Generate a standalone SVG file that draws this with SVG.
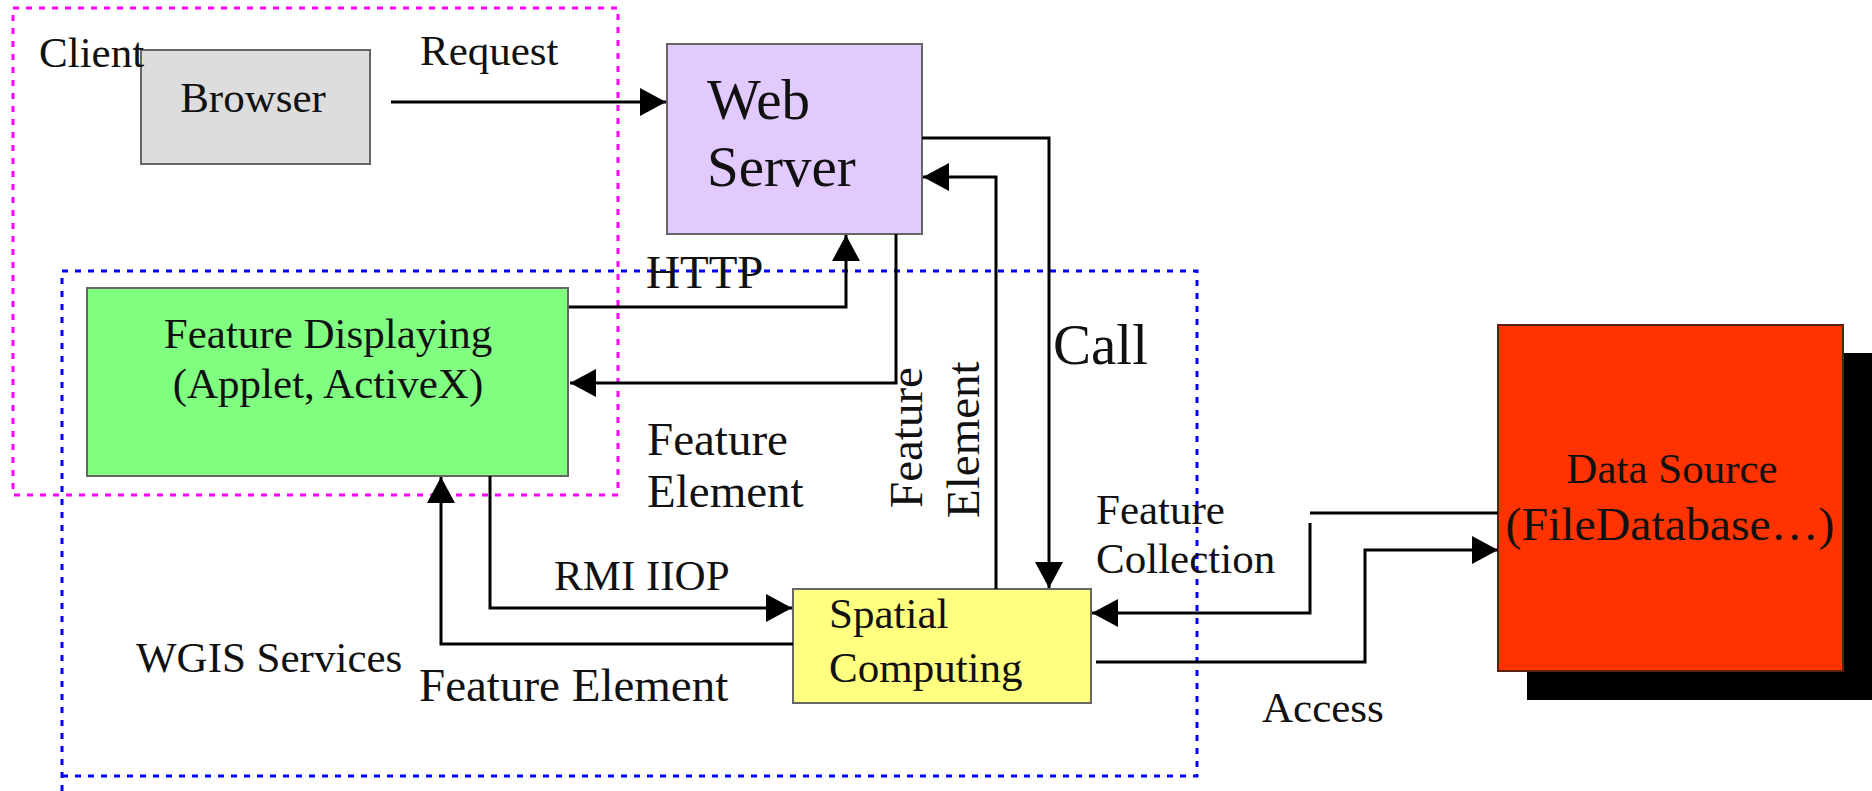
<svg xmlns="http://www.w3.org/2000/svg" width="1872" height="791" viewBox="0 0 1872 791">
<style>
.t{font-family:"Liberation Serif","Times New Roman",serif;fill:#111}
.s43{font-size:43px}
.s47{font-size:47px}
.s56{font-size:57px}
.box{stroke:#666;stroke-width:2}
.conn{fill:none;stroke:#000;stroke-width:3}
.zone{fill:none;stroke-width:3;stroke-dasharray:6 7}
</style>
<defs>
<marker id="ah" markerUnits="userSpaceOnUse" markerWidth="28" markerHeight="28" refX="26" refY="14" orient="auto" viewBox="0 0 28 28">
<path d="M0,0 L26,14 L0,28 z" fill="#000"/>
</marker>
</defs>
<rect width="1872" height="791" fill="#fff"/>

<g id="zone-client">
<rect class="zone" x="13" y="8" width="605" height="487" stroke="#ff00ff"/>
</g>
<g id="zone-wgis">
<path class="zone" d="M62,791 V271 H1197 V776 H62" stroke="#0000ff"/>
</g>

<g id="browser">
<rect class="box" x="141" y="50" width="229" height="114" fill="#dddddd" stroke="#333"/>
<text class="t s43" x="253" y="112" text-anchor="middle">Browser</text>
</g>

<g id="web-server">
<rect class="box" x="667" y="44" width="255" height="190" fill="#e2caff" stroke="#777"/>
<text class="t s56" x="707" y="119">Web</text>
<text class="t s56" x="707" y="186">Server</text>
</g>

<g id="feature-displaying">
<rect class="box" x="87" y="288" width="481" height="188" fill="#80ff80" stroke="#333"/>
<text class="t s43" x="328" y="348" text-anchor="middle">Feature Displaying</text>
<text class="t s43" x="328" y="398" text-anchor="middle">(Applet, ActiveX)</text>
</g>

<g id="spatial-computing">
<rect class="box" x="793" y="589" width="298" height="114" fill="#ffff80" stroke="#777"/>
<text class="t s43" x="829" y="628">Spatial</text>
<text class="t s43" x="829" y="682">Computing</text>
</g>

<g id="data-source">
<rect x="1527" y="353" width="345" height="347" fill="#000"/>
<rect x="1498" y="325" width="345" height="346" fill="#ff3300" stroke="#5a2010" stroke-width="2"/>
<text class="t s43" x="1672" y="483" text-anchor="middle">Data Source</text>
<text class="t s47" x="1670" y="540" text-anchor="middle" textLength="329" lengthAdjust="spacingAndGlyphs">(FileDatabase…)</text>
</g>

<g id="connectors">
<path class="conn" d="M391,102 H666" marker-end="url(#ah)"/>
<path class="conn" d="M569,307 H846 V235" marker-end="url(#ah)"/>
<path class="conn" d="M896,234 V383 H570" marker-end="url(#ah)"/>
<path class="conn" d="M922,138 H1049 V588" marker-end="url(#ah)"/>
<path class="conn" d="M996,589 V177 H923" marker-end="url(#ah)"/>
<path class="conn" d="M490,476 V608 H792" marker-end="url(#ah)"/>
<path class="conn" d="M793,644 H441 V477" marker-end="url(#ah)"/>
<path class="conn" d="M1498,513 H1310"/>
<path class="conn" d="M1310,523 V613 H1092" marker-end="url(#ah)"/>
<path class="conn" d="M1096,662 H1365 V550 H1498" marker-end="url(#ah)"/>
</g>

<g id="labels">
<text class="t s43" x="39" y="67">Client</text>
<text class="t s43" x="420" y="65">Request</text>
<text class="t s47" x="646" y="288">HTTP</text>
<text class="t s47" x="647" y="455">Feature</text>
<text class="t s47" x="647" y="507">Element</text>
<text class="t s47" transform="translate(922,508) rotate(-90)" fill="#333">Feature</text>
<text class="t s47" transform="translate(979,518) rotate(-90)" fill="#333">Element</text>
<text class="t s56" x="1053" y="364">Call</text>
<text class="t s43" x="1096" y="524">Feature</text>
<text class="t s43" x="1096" y="573">Collection</text>
<text class="t s43" x="554" y="590">RMI IIOP</text>
<text class="t s43" x="136" y="672">WGIS Services</text>
<text class="t s47" x="419" y="701">Feature Element</text>
<text class="t s43" x="1262" y="722">Access</text>
</g>
</svg>
